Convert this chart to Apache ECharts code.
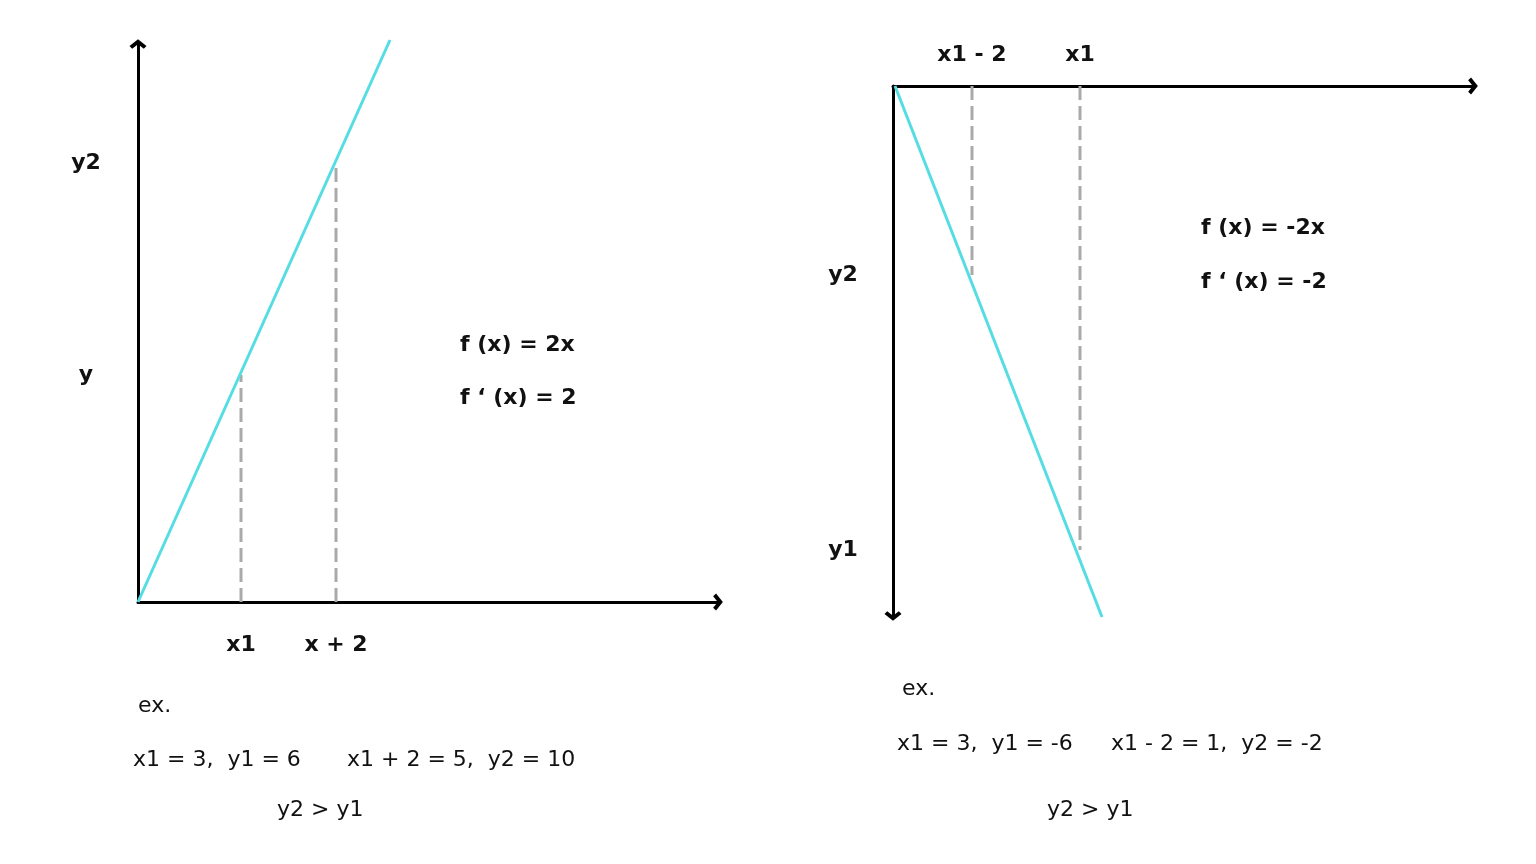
<!DOCTYPE html>
<html>
<head>
<meta charset="utf-8">
<script src="https://cdn.jsdelivr.net/npm/echarts@6/dist/echarts.min.js"></script>
<style>
  html, body { margin: 0; padding: 0; background: #fff; }
  #chart { width: 1536px; height: 864px; }
</style>
</head>
<body>
<div id="chart"></div>
<script>
// left panel: f(x) = 2x (schematic units, axis runs 0..580 by 0..558)
const leftLine = [[0, 0], [252, 562]];
const leftX = [103, 198];
const leftY = [227, 439];
const leftXNames = ["x1", "x + 2"];
const leftYNames = ["y", "y2"];

// right panel: f(x) = -2x (y axis points down)
const rightLine = [[2, 0], [209, -531]];
const rightX = [79, 187];
const rightY = [-189, -464];
const rightXNames = ["x1 - 2", "x1"];
const rightYNames = ["y2", "y1"];

const FONT = "DejaVu Sans";
const CYAN = "#55dde3";
const GREY = "#aaaaaa";
// open chevron used as the arrow head of each axis
const ARROW = "path://M7,0 L14,5.6 L11.8,8 L7,4.2 L2.2,8 L0,5.6 Z";

function dashPairs(xs, ys) {
  // one vertical dashed segment per point, from the x axis to the line
  return xs.map(function (x, i) {
    return [[x, 0], [x, ys[i]]];
  });
}

function nameOf(values, names) {
  return function (v) {
    const i = values.indexOf(v);
    return i < 0 ? "" : names[i];
  };
}

const axisLine = function (sym) {
  return {
    show: true,
    onZero: false,
    symbol: sym,
    symbolSize: [17, 10],
    symbolOffset: [0, 0],
    lineStyle: { color: "#000", width: 3 }
  };
};

const boldLabel = {
  fontFamily: FONT,
  fontWeight: "bold",
  fontSize: 22,
  color: "#111"
};

const series = [];
dashPairs(leftX, leftY).forEach(function (seg) {
  series.push({
    type: "line", xAxisIndex: 0, yAxisIndex: 0, data: seg,
    symbol: "none", silent: true, clip: false,
    lineStyle: { color: GREY, width: 3, type: [14, 6] }
  });
});
series.push({
  type: "line", xAxisIndex: 0, yAxisIndex: 0, data: leftLine,
  symbol: "none", silent: true, clip: false,
  lineStyle: { color: CYAN, width: 3 }
});
dashPairs(rightX, rightY).forEach(function (seg) {
  series.push({
    type: "line", xAxisIndex: 1, yAxisIndex: 1, data: seg,
    symbol: "none", silent: true, clip: false,
    lineStyle: { color: GREY, width: 3, type: [14, 6] }
  });
});
series.push({
  type: "line", xAxisIndex: 1, yAxisIndex: 1, data: rightLine,
  symbol: "none", silent: true, clip: false,
  lineStyle: { color: CYAN, width: 3 }
});

function txt(x, y, text, bold, size) {
  return {
    type: "text", x: x, y: y,
    style: {
      text: text,
      fill: "#111",
      font: (bold ? "bold " : "") + size + "px '" + FONT + "'",
      verticalAlign: "middle"
    }
  };
}

const chart = echarts.init(document.getElementById("chart"));
chart.setOption({
  animation: false,
  backgroundColor: "#fff",
  grid: [
    { left: 138, top: 44, width: 580, height: 558 },
    { left: 893, top: 86, width: 580, height: 530 }
  ],
  xAxis: [
    {
      type: "value", gridIndex: 0, min: 0, max: 580,
      axisLine: axisLine(["none", ARROW]),
      axisTick: { show: false },
      splitLine: { show: false },
      axisLabel: Object.assign({
        customValues: leftX, margin: 32,
        formatter: nameOf(leftX, leftXNames)
      }, boldLabel)
    },
    {
      type: "value", gridIndex: 1, min: 0, max: 580, position: "top",
      axisLine: axisLine(["none", ARROW]),
      axisTick: { show: false },
      splitLine: { show: false },
      axisLabel: Object.assign({
        customValues: rightX, margin: 20,
        formatter: nameOf(rightX, rightXNames)
      }, boldLabel)
    }
  ],
  yAxis: [
    {
      type: "value", gridIndex: 0, min: 0, max: 558,
      axisLine: axisLine(["none", ARROW]),
      axisTick: { show: false },
      splitLine: { show: false },
      axisLabel: Object.assign({
        customValues: leftY, margin: 52, align: "center",
        formatter: nameOf(leftY, leftYNames)
      }, boldLabel)
    },
    {
      type: "value", gridIndex: 1, min: -530, max: 0,
      axisLine: axisLine([ARROW, "none"]),
      axisTick: { show: false },
      splitLine: { show: false },
      axisLabel: Object.assign({
        customValues: rightY, margin: 50, align: "center",
        formatter: nameOf(rightY, rightYNames)
      }, boldLabel)
    }
  ],
  series: series,
  graphic: [
    txt(460, 345, "f (x) = 2x", true, 22),
    txt(460, 398, "f \u2018 (x) = 2", true, 22),
    txt(138, 706, "ex.", false, 22),
    txt(133, 760, "x1 = 3,  y1 = 6", false, 22),
    txt(347, 760, "x1 + 2 = 5,  y2 = 10", false, 22),
    txt(277, 810, "y2 > y1", false, 22),
    txt(1201, 228, "f (x) = -2x", true, 22),
    txt(1201, 282, "f \u2018 (x) = -2", true, 22),
    txt(902, 689, "ex.", false, 22),
    txt(897, 744, "x1 = 3,  y1 = -6", false, 22),
    txt(1111, 744, "x1 - 2 = 1,  y2 = -2", false, 22),
    txt(1047, 810, "y2 > y1", false, 22)
  ]
});
</script>
</body>
</html>
